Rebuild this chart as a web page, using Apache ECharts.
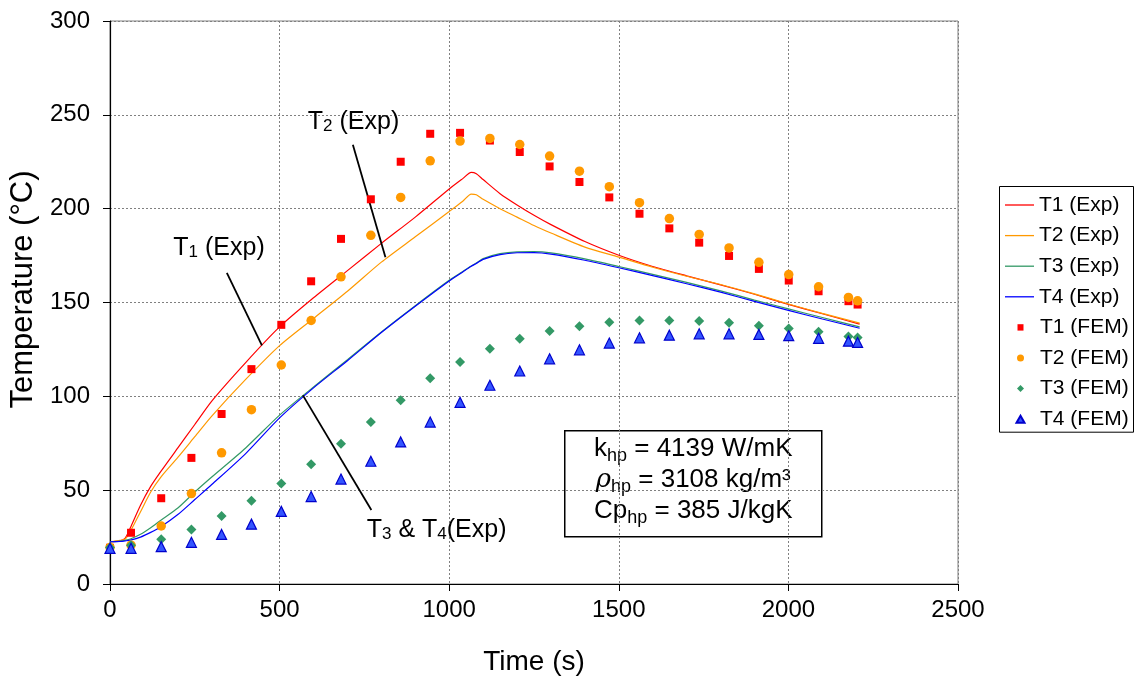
<!DOCTYPE html>
<html><head><meta charset="utf-8">
<script src="https://cdn.jsdelivr.net/npm/echarts@6/dist/echarts.min.js"></script>
<style>html,body{margin:0;padding:0;background:#fff}#c{width:1134px;height:681px}</style>
</head><body><div id="c"></div>
<script>
// ---------- data ----------
const expTime = [0, 30, 45, 60, 90, 120, 150, 200, 250, 300, 400, 500, 600, 700, 800, 900, 1000, 1040, 1065, 1080, 1100, 1150, 1200, 1250, 1300, 1400, 1500, 1600, 1700, 1800, 1900, 2000, 2100, 2210];
const t1Exp = [22.5, 23, 24.5, 30, 42, 52, 60, 72.5, 85, 97.5, 118, 137, 152.5, 167, 181.5, 195.5, 210.5, 216, 219.3, 218.6, 215.5, 208, 202, 196.5, 191.5, 182.5, 175.2, 169.2, 164.2, 159.4, 154.4, 149, 144, 138.5];
const t2Exp = [22.5, 23.2, 24, 28, 38.5, 49, 57, 67.5, 78.5, 89.5, 109, 127, 141.5, 156, 171.5, 185, 198.5, 204, 207.8, 207.4, 205, 200, 195.5, 191, 187, 179.5, 174.2, 168.8, 164, 159.6, 154.6, 149.2, 144.2, 139];
const t3Exp = [22.5, 22.8, 23.3, 24, 26.5, 30, 34, 40.5, 49, 57, 72.5, 90, 105, 119.5, 134.3, 148.3, 161.8, 166.5, 169.5, 171, 173.4, 176, 177, 177.1, 176.4, 173.2, 169.2, 165, 160.7, 156.2, 151.3, 146.6, 142, 137];
const t4Exp = [22.5, 22.7, 23, 23.4, 25, 27.5, 30.5, 37, 45, 53, 69.5, 88.5, 104.5, 119, 134, 148, 161.5, 166.3, 169.3, 170.8, 173, 175.5, 176.5, 176.6, 175.8, 172.5, 168.5, 164.3, 160, 155.5, 150.6, 145.8, 141.2, 136.3];

const femTime = [0, 62, 151, 240, 329, 417, 505, 593, 681, 769, 857, 944, 1032, 1120, 1208, 1296, 1384, 1472, 1561, 1649, 1737, 1825, 1913, 2001, 2089, 2177, 2204];
const t1Fem = [19.3, 27.3, 45.7, 67.2, 90.6, 114.5, 138.1, 161.3, 183.9, 205, 225, 239.9, 240.4, 236.3, 230.2, 222.5, 214.2, 206, 197.3, 189.5, 181.9, 174.8, 167.9, 161.7, 156, 150.7, 148.9];
const t2Fem = [19.5, 20.7, 30.9, 48.2, 69.9, 92.9, 116.7, 140.4, 163.7, 185.8, 206, 225.5, 236, 237.4, 234.2, 228, 220, 211.7, 203.2, 194.7, 186.3, 179.1, 171.4, 164.9, 158.4, 152.7, 150.9];
const t3Fem = [19.5, 20.7, 23.8, 29.1, 36.2, 44.3, 53.6, 63.8, 74.8, 86.3, 97.9, 109.6, 118.3, 125.4, 130.7, 134.8, 137.4, 139.5, 140.4, 140.4, 140.1, 139.2, 137.6, 136.2, 134.4, 131.9, 131.4];
const t4Fem = [19, 19, 19.9, 22.2, 26.4, 31.9, 38.7, 46.6, 55.9, 65.4, 75.7, 86.3, 96.8, 105.9, 113.5, 120, 124.8, 128.4, 131.2, 132.6, 133.3, 133.3, 133, 132.3, 130.9, 129.4, 128.7];

const expNames = ['T1 (Exp)', 'T2 (Exp)', 'T3 (Exp)', 'T4 (Exp)'];
const femNames = ['T1 (FEM)', 'T2 (FEM)', 'T3 (FEM)', 'T4 (FEM)'];
const xTicks = [0, 500, 1000, 1500, 2000, 2500];
const yTicks = [0, 50, 100, 150, 200, 250, 300];

// annotation texts, anchored in data units (time, temperature)
const annoText = ['{n|T}{s|1}{n| (Exp)}', '{n|T}{s|2}{n| (Exp)}', '{n|T}{s|3}{n| & T}{s|4}{n|(Exp)}'];
const annoAt = [[321.5, 179.8], [718, 247.3], [963, 29.8]];
const leaderFrom = [[344.5, 165.8], [716, 234], [568.7, 100.5]];
const leaderTo = [[447.8, 127.1], [812, 174.1], [770.5, 39.4]];
const boxLines = ['k{s|hp} = 4139 W/mK', '{r|ρ}{s|hp} = 3108 kg/m³', 'Cp{s|hp} = 385 J/kgK'];

// ---------- chart ----------
const FONT = 'Liberation Sans, Arial, Helvetica, sans-serif';
const zip = (xs, ys) => xs.map((x, i) => [x, ys[i]]);
const lineColors = ['#ff0000', '#ff9900', '#339966', '#0000ff'];
const expData = [t1Exp, t2Exp, t3Exp, t4Exp];
const femData = [t1Fem, t2Fem, t3Fem, t4Fem];
const femSymbols = ['rect', 'circle', 'diamond', 'triangle'];
const femSizes = [8, 9.5, 10, 10];
const femFill = ['#ff0000', '#ff9900', '#339966', '#3355ff'];
const femBorder = ['#ff0000', '#ff9900', '#339966', '#0000cc'];
// legend icons: glyph centred in a 29x7 box (invisible end points keep the box width)
const femLegendIcons = [
  'path://M0,0L0,0M11.5,0.3L17.5,0.3L17.5,6.7L11.5,6.7ZM29,7L29,7',
  'path://M0,0L0,0M18,3.5A3.5,3.5,0,1,1,11,3.5A3.5,3.5,0,1,1,18,3.5ZM29,7L29,7',
  'path://M0,0L0,0M14.5,0L18,3.5L14.5,7L11,3.5ZM29,7L29,7',
  'path://M0,0L0,0M14.5,0L18.5,7L10.5,7ZM29,7L29,7'
];

const series = [];
expData.forEach((d, i) => {
  series.push({
    name: expNames[i], type: 'line', data: zip(expTime, d),
    symbol: 'none', showSymbol: false, smooth: 0.25,
    lineStyle: { color: lineColors[i], width: 1.2 }, itemStyle: { color: lineColors[i] },
    z: 2, silent: true
  });
});
femData.forEach((d, i) => {
  series.push({
    name: femNames[i], type: 'scatter', data: zip(femTime, d),
    symbol: femSymbols[i], symbolSize: femSizes[i],
    itemStyle: { color: femFill[i], borderColor: femBorder[i], borderWidth: i === 3 ? 1.2 : 0, opacity: 1 },
    z: 4 + i
  });
});
leaderFrom.forEach((p, i) => {
  series.push({
    name: 'leader' + i, type: 'line', data: [p, leaderTo[i]], symbol: 'none',
    lineStyle: { color: '#000', width: 1.8 }, z: 3, silent: true
  });
});
const subRich = {
  n: { fontSize: 25, fontFamily: FONT, color: '#000', lineHeight: 29, verticalAlign: 'bottom', textBorderWidth: 0 },
  s: { fontSize: 17, fontFamily: FONT, color: '#000', lineHeight: 16, verticalAlign: 'bottom', textBorderWidth: 0 }
};
series.push({
  name: 'annotations', type: 'scatter', symbolSize: 0, silent: true, z: 10,
  itemStyle: { color: '#000', opacity: 1 },
  data: annoAt.map((p, i) => ({ value: p, label: {
    show: true, position: 'inside', color: '#000', opacity: 1, textBorderWidth: 0, textBorderColor: 'transparent',
    formatter: annoText[i], rich: subRich } }))
});

const plain = v => String(v);
const legendCommon = {
  orient: 'vertical', left: 999, itemWidth: 29, itemGap: 9.6,
  textStyle: { fontSize: 21, color: '#000', fontFamily: FONT, lineHeight: 21 },
  selectedMode: false
};

const option = {
  animation: false,
  backgroundColor: '#fff',
  textStyle: { fontFamily: FONT },
  grid: { left: 110, right: 176, top: 21, bottom: 97, show: true, borderColor: '#808080', borderWidth: 1 },
  xAxis: {
    type: 'value', min: xTicks[0], max: xTicks[xTicks.length - 1], interval: 500,
    name: 'Time (s)', nameLocation: 'middle', nameGap: 64,
    nameTextStyle: { fontSize: 28, color: '#000', fontFamily: FONT },
    axisLine: { show: true, onZero: false, lineStyle: { color: '#000', width: 1.2 } },
    axisTick: { show: true, inside: false, length: 7, lineStyle: { color: '#000' } },
    axisLabel: { fontSize: 24, color: '#000', margin: 14, fontFamily: FONT, formatter: plain },
    splitLine: { show: true, lineStyle: { color: '#808080', type: [2, 2], width: 1 } }
  },
  yAxis: {
    type: 'value', min: yTicks[0], max: yTicks[yTicks.length - 1], interval: 50,
    name: 'Temperature (°C)', nameLocation: 'middle', nameGap: 60, nameRotate: 90,
    nameTextStyle: { fontSize: 31, color: '#000', fontFamily: FONT, padding: [0, 0, 0, 26] },
    axisLine: { show: true, onZero: false, lineStyle: { color: '#000', width: 1.2 } },
    axisTick: { show: true, inside: false, length: 7, lineStyle: { color: '#000' } },
    axisLabel: { fontSize: 24, color: '#000', margin: 20, fontFamily: FONT, formatter: plain },
    splitLine: { show: true, lineStyle: { color: '#808080', type: [2, 2], width: 1 } }
  },
  legend: [
    Object.assign({}, legendCommon, {
      top: 194.5, padding: [0, 3, 0, 6], data: expNames.map(n => ({ name: n, icon: 'rect' })), itemHeight: 1.3
    }),
    Object.assign({}, legendCommon, {
      top: 194.5 + 4 * 30.6, padding: [0, 3, 0, 6], itemHeight: 7,
      data: femNames.map((n, i) => ({ name: n, icon: femLegendIcons[i] }))
    })
  ],
  graphic: [
    { type: 'rect', left: 999, top: 186, z: -1, shape: { width: 134, height: 245.7 }, style: { fill: '#fff', stroke: '#000', lineWidth: 1 } },
    {
      type: 'group', left: 564, top: 430,
      children: [
        { type: 'rect', shape: { x: 0, y: 0, width: 257, height: 106 }, style: { fill: '#fff', stroke: '#000', lineWidth: 1.5 } },
        { type: 'text', x: 128.5, y: 3, style: {
            text: boxLines.join('\n'), align: 'center', verticalAlign: 'top',
            fontSize: 26, fontFamily: FONT, fill: '#000', lineHeight: 31,
            rich: {
              s: { fontSize: 18, fontFamily: FONT, fill: '#000', lineHeight: 20, verticalAlign: 'bottom' },
              r: { fontSize: 26, fontFamily: 'DejaVu Serif, serif', fontStyle: 'italic', fill: '#000', lineHeight: 31 }
            }
        } }
      ]
    }
  ],
  series: series
};
const chart = echarts.init(document.getElementById('c'), null, { renderer: 'canvas' });
chart.setOption(option);
</script>
</body></html>
